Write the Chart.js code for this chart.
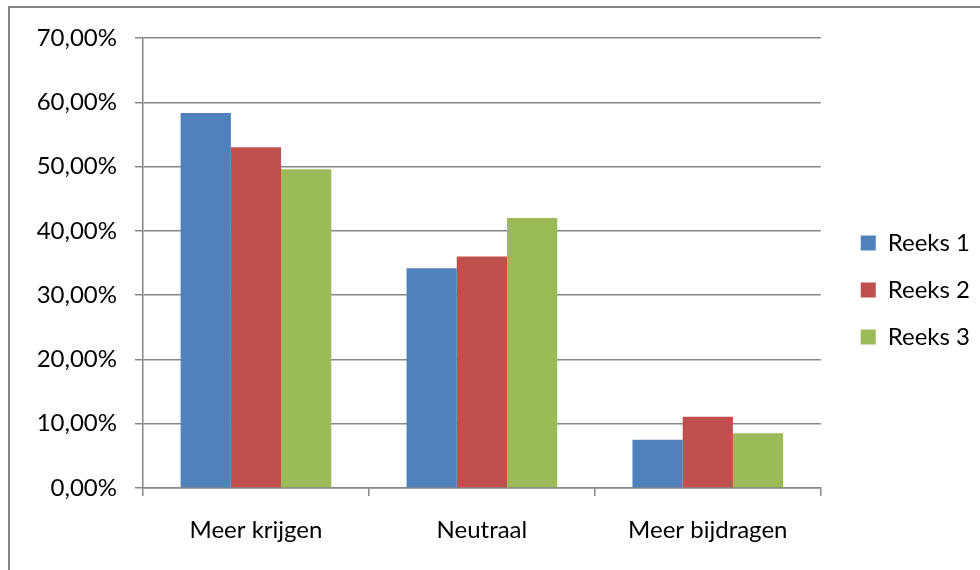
<!DOCTYPE html>
<html><head><meta charset="utf-8">
<script src="https://cdn.jsdelivr.net/npm/chart.js@4.4.1/dist/chart.umd.min.js"></script>
<style>
html,body{margin:0;padding:0;background:#fff;overflow:hidden;}
#wrap{position:relative;width:980px;height:570px;}
#frame{position:absolute;left:8px;top:6px;width:1000px;height:600px;border:2px solid #868686;pointer-events:none;}
canvas{position:absolute;left:0;top:0;}
</style></head><body>
<div id="wrap"><canvas id="c" width="980" height="570"></canvas><div id="frame"></div></div>
<script>
const categories = ['Meer krijgen', 'Neutraal', 'Meer bijdragen'];
const seriesNames = ['Reeks 1', 'Reeks 2', 'Reeks 3'];
const reeks1 = [58.35, 34.2, 7.5];
const reeks2 = [53.0, 36.0, 11.1];
const reeks3 = [49.6, 42.0, 8.5];
const yTickValues = [0, 10, 20, 30, 40, 50, 60, 70];
const yTickLabels = ['0,00%', '10,00%', '20,00%', '30,00%', '40,00%', '50,00%', '60,00%', '70,00%'];
const colors = ['#4F81BD', '#C0504D', '#9BBB59'];

Chart.defaults.font.family = 'Lato, "Open Sans", sans-serif';
Chart.defaults.font.size = 24;
Chart.defaults.color = '#000';

const seriesData = [reeks1, reeks2, reeks3];
const gridColor = '#868686';

// widen the legend box (shrinking the plot) and shift it right / up
const legendShift = {
  id: 'legendShift',
  beforeLayout(chart) {
    const lg = chart.legend;
    if (lg && !lg._patched) {
      const orig = lg.fit;
      lg.fit = function () { orig.call(this); this.width += 17; };
      lg._patched = true;
    }
  },
  afterLayout(chart) {
    const lg = chart.legend;
    if (lg) { lg.left += 17; lg.right += 17; lg.top -= 14; lg.bottom -= 14; }
  }
};

new Chart(document.getElementById('c'), {
  type: 'bar',
  data: {
    labels: categories,
    datasets: seriesNames.map((n, i) => ({
      label: n,
      data: seriesData[i],
      backgroundColor: colors[i],
      borderWidth: 0,
      categoryPercentage: 0.667,
      barPercentage: 1.0
    }))
  },
  plugins: [legendShift],
  options: {
    responsive: false,
    animation: false,
    devicePixelRatio: 1,
    layout: { padding: { left: 0, top: 38, right: 0, bottom: 0 } },
    plugins: {
      tooltip: { enabled: false },
      legend: {
        position: 'right',
        labels: { boxWidth: 15, boxHeight: 15, padding: 23, color: '#000', font: { size: 24 } }
      }
    },
    scales: {
      x: {
        offset: true,
        grid: { display: true, drawOnChartArea: false, offset: true, tickLength: 8, color: gridColor, lineWidth: 1.5 },
        border: { display: true, color: gridColor, width: 1.5 },
        ticks: { padding: 20, color: '#000', font: { size: 24 } },
        afterFit: s => { s.height = 82; }
      },
      y: {
        min: 0, max: 70,
        afterBuildTicks: s => { s.ticks = yTickValues.map(v => ({ value: v })); },
        grid: { color: gridColor, lineWidth: 1.5, tickLength: 8 },
        border: { display: true, color: gridColor, width: 1.5 },
        ticks: {
          padding: 18, color: '#000', font: { size: 24 },
          callback: v => yTickLabels[yTickValues.indexOf(v)]
        },
        afterFit: s => { s.width = 143; }
      }
    }
  }
});
</script>
</body></html>
